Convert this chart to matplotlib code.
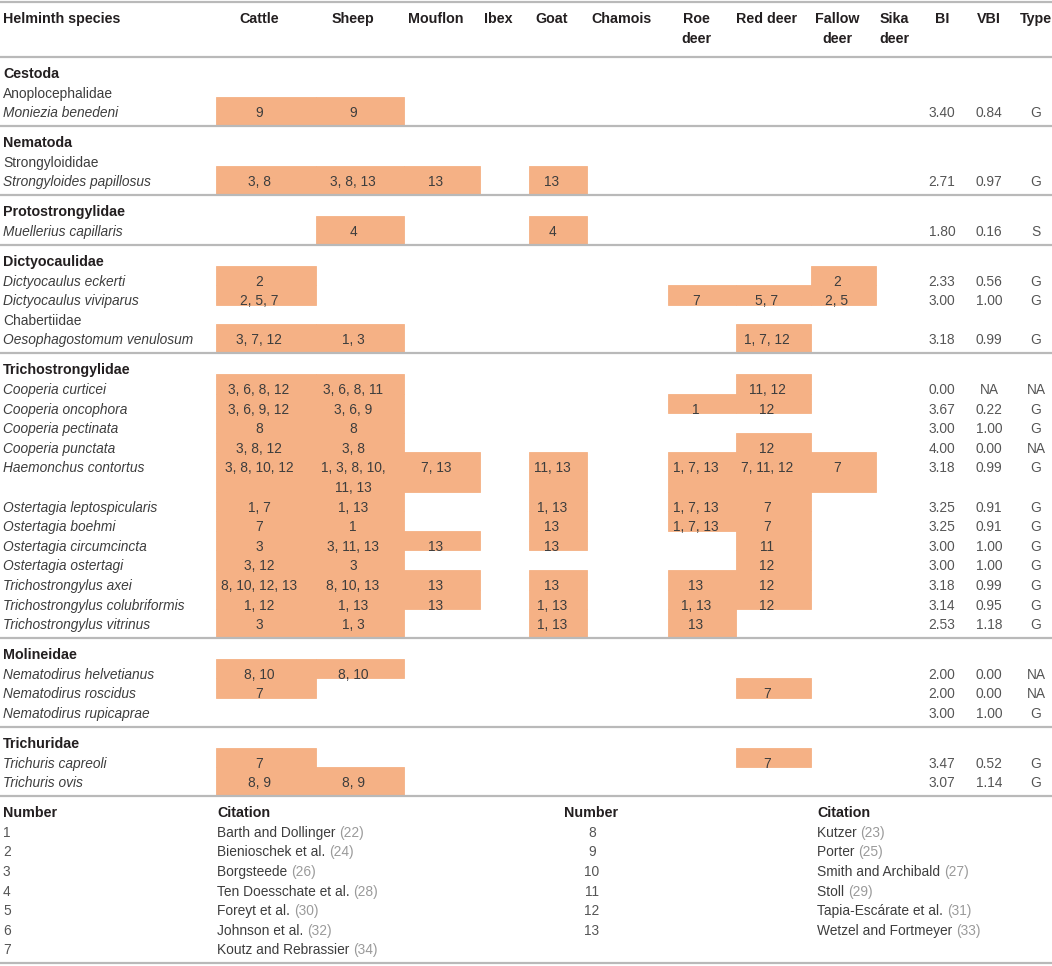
import matplotlib.pyplot as plt
from matplotlib.patches import Rectangle

plt.rcParams['font.family'] = ['Liberation Sans', 'DejaVu Sans']

# ---- data ----
hosts = ["Cattle", "Sheep", "Mouflon", "Ibex", "Goat", "Chamois",
         "Roe\ndeer", "Red deer", "Fallow\ndeer", "Sika\ndeer"]

species = ["Moniezia benedeni", "Strongyloides papillosus", "Muellerius capillaris",
           "Dictyocaulus eckerti", "Dictyocaulus viviparus", "Oesophagostomum venulosum",
           "Cooperia curticei", "Cooperia oncophora", "Cooperia pectinata",
           "Cooperia punctata", "Haemonchus contortus", "Ostertagia leptospicularis",
           "Ostertagia boehmi", "Ostertagia circumcincta", "Ostertagia ostertagi",
           "Trichostrongylus axei", "Trichostrongylus colubriformis",
           "Trichostrongylus vitrinus", "Nematodirus helvetianus", "Nematodirus roscidus",
           "Nematodirus rupicaprae", "Trichuris capreoli", "Trichuris ovis"]

# citation numbers per host (same order as hosts), "" = not reported
cites = [
    ["9", "9", "", "", "", "", "", "", "", ""],
    ["3, 8", "3, 8, 13", "13", "", "13", "", "", "", "", ""],
    ["", "4", "", "", "4", "", "", "", "", ""],
    ["2", "", "", "", "", "", "", "", "2", ""],
    ["2, 5, 7", "", "", "", "", "", "7", "5, 7", "2, 5", ""],
    ["3, 7, 12", "1, 3", "", "", "", "", "", "1, 7, 12", "", ""],
    ["3, 6, 8, 12", "3, 6, 8, 11", "", "", "", "", "", "11, 12", "", ""],
    ["3, 6, 9, 12", "3, 6, 9", "", "", "", "", "1", "12", "", ""],
    ["8", "8", "", "", "", "", "", "", "", ""],
    ["3, 8, 12", "3, 8", "", "", "", "", "", "12", "", ""],
    ["3, 8, 10, 12", "1, 3, 8, 10,\n11, 13", "7, 13", "", "11, 13", "", "1, 7, 13", "7, 11, 12", "7", ""],
    ["1, 7", "1, 13", "", "", "1, 13", "", "1, 7, 13", "7", "", ""],
    ["7", "1", "", "", "13", "", "1, 7, 13", "7", "", ""],
    ["3", "3, 11, 13", "13", "", "13", "", "", "11", "", ""],
    ["3, 12", "3", "", "", "", "", "", "12", "", ""],
    ["8, 10, 12, 13", "8, 10, 13", "13", "", "13", "", "13", "12", "", ""],
    ["1, 12", "1, 13", "13", "", "1, 13", "", "1, 13", "12", "", ""],
    ["3", "1, 3", "", "", "1, 13", "", "13", "", "", ""],
    ["8, 10", "8, 10", "", "", "", "", "", "", "", ""],
    ["7", "", "", "", "", "", "", "7", "", ""],
    ["", "", "", "", "", "", "", "", "", ""],
    ["7", "", "", "", "", "", "", "7", "", ""],
    ["8, 9", "8, 9", "", "", "", "", "", "", "", ""],
]

bi = ["3.40", "2.71", "1.80", "2.33", "3.00", "3.18", "0.00", "3.67", "3.00", "4.00",
      "3.18", "3.25", "3.25", "3.00", "3.00", "3.18", "3.14", "2.53", "2.00", "2.00",
      "3.00", "3.47", "3.07"]
vbi = ["0.84", "0.97", "0.16", "0.56", "1.00", "0.99", "NA", "0.22", "1.00", "0.00",
       "0.99", "0.91", "0.91", "1.00", "1.00", "0.99", "0.95", "1.18", "0.00", "0.00",
       "1.00", "0.52", "1.14"]
types = ["G", "G", "S", "G", "G", "G", "NA", "G", "G", "NA", "G", "G", "G", "G", "G",
         "G", "G", "G", "NA", "NA", "G", "G", "G"]

# headings: (species index they precede, label, bold?, new section?)
headings = [(0, "Cestoda", True, False), (0, "Anoplocephalidae", False, False),
            (1, "Nematoda", True, True), (1, "Strongyloididae", False, False),
            (2, "Protostrongylidae", True, True),
            (3, "Dictyocaulidae", True, True),
            (5, "Chabertiidae", False, False),
            (6, "Trichostrongylidae", True, True),
            (18, "Molineidae", True, True),
            (21, "Trichuridae", True, True)]

ref_names = ["Barth and Dollinger", "Bienioschek et al.", "Borgsteede",
             "Ten Doesschate et al.", "Foreyt et al.", "Johnson et al.",
             "Koutz and Rebrassier", "Kutzer", "Porter", "Smith and Archibald",
             "Stoll", "Tapia-Escárate et al.", "Wetzel and Fortmeyer"]
ref_ids = [22, 24, 26, 28, 30, 32, 34, 23, 25, 27, 29, 31, 33]

# ---- layout ----
cell_x = [(216, 316), (316, 404), (404, 480), (480, 529), (529, 587), (587, 668),
          (668, 736), (736, 811), (811, 876), (876, 918)]
text_x = [259, 353, 436, 498, 552, 622, 696, 767, 837, 894]
bi_x, vbi_x, type_x = 942, 989, 1036
pitch, gap_top, gap_bot = 19.6, 17, 13
fill = '#f5b185'
rule = '#b9b9b9'
dark = '#231f20'
body = '#3d3d3d'
fs = 9.9
fs_bold = 10.3

fig = plt.figure(figsize=(10.52, 9.66), dpi=100)
ax = fig.add_axes([0, 0, 1, 1])
ax.set_xlim(0, 1052)
ax.set_ylim(966, 0)
ax.axis('off')


def rule_at(y):
    ax.plot([0, 1052], [y, y], color=rule, lw=1.6, solid_capstyle='butt')


def txt(x, y, s, ha='left', **kw):
    kw.setdefault('color', body)
    size = fs_bold if kw.get('fontweight') == 'bold' else fs
    return ax.text(x, y, s, ha=ha, va='center', fontsize=size, **kw)


# header
rule_at(2)
txt(3, 19, "Helminth species", fontweight='bold', color=dark)
for i, h in enumerate(hosts):
    for k, part in enumerate(h.split("\n")):
        txt(text_x[i], 19 + 20 * k, part, ha='center', fontweight='bold', color=dark)
for x, lab in [(bi_x, "BI"), (vbi_x, "VBI"), (type_x, "Type")]:
    txt(x, 19, lab, ha='center', fontweight='bold', color=dark)
line_y = 57
rule_at(line_y)

# body
y = line_y + gap_top
for s in range(len(species)):
    for (idx, lab, bold, newsec) in headings:
        if idx != s:
            continue
        if newsec:
            line_y = y - pitch + gap_bot
            rule_at(line_y)
            y = line_y + gap_top
        txt(3, y, lab, fontweight='bold' if bold else 'normal',
            color=dark if bold else body)
        y += pitch
    nlines = max(c.count("\n") + 1 for c in cites[s])
    last = s == len(species) - 1 or any(h[0] == s + 1 and h[3] for h in headings)
    top = y - 16
    bot = y + pitch * (nlines - 1) + (gap_bot if last else pitch - 16)
    for j, c in enumerate(cites[s]):
        if not c:
            continue
        x0, x1 = cell_x[j]
        ax.add_patch(Rectangle((x0, top), x1 - x0, bot - top, facecolor=fill,
                               edgecolor=fill, lw=0.6, zorder=0))
        for k, part in enumerate(c.split("\n")):
            txt(text_x[j], y + pitch * k, part, ha='center')
    txt(3, y, species[s], style='italic')
    txt(bi_x, y, bi[s], ha='center', color='#555555')
    txt(vbi_x, y, vbi[s], ha='center', color='#555555')
    txt(type_x, y, types[s], ha='center', color='#555555')
    y += pitch * nlines
line_y = y - pitch + gap_bot
rule_at(line_y)

# citation key
y = line_y + gap_top
txt(3, y, "Number", fontweight='bold', color=dark)
txt(217, y, "Citation", fontweight='bold', color=dark)
txt(564, y, "Number", fontweight='bold', color=dark)
txt(817, y, "Citation", fontweight='bold', color=dark)
for n, (name, ref) in enumerate(zip(ref_names, ref_ids)):
    row = n if n < 7 else n - 7
    yy = y + pitch * (row + 1)
    if n < 7:
        txt(3, yy, str(n + 1), color='#555555')
        t = txt(217, yy, name + " ")
    else:
        txt(592, yy, str(n + 1), ha='center', color='#555555')
        t = txt(817, yy, name + " ")
    ax.annotate(f"({ref})", xy=(1, 0), xycoords=t, ha='left', va='bottom',
                fontsize=fs, color='#9a9a9a')
rule_at(y + pitch * 7 + gap_bot)

fig.savefig('out.png', dpi=100)
